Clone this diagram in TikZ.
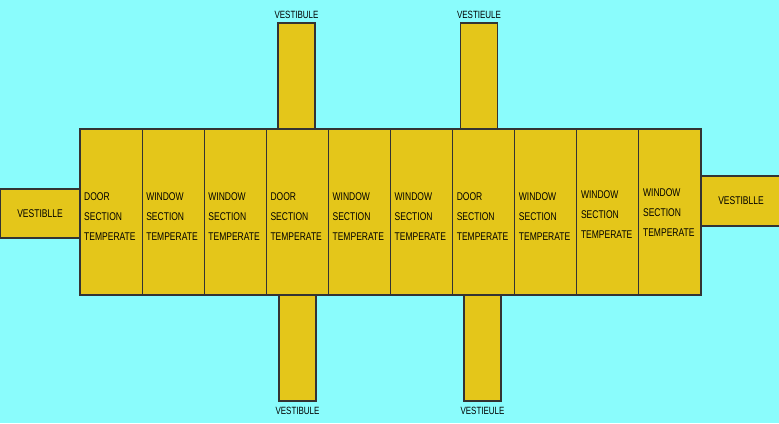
\documentclass[tikz,border=0pt]{standalone}
\usepackage{fontspec}
\newfontfamily\planfont[FakeStretch=0.76]{Liberation Sans}
\usetikzlibrary{positioning}
\definecolor{skycyan}{RGB}{138,252,252}
\definecolor{hallgold}{RGB}{228,198,26}

\begin{document}
\begin{tikzpicture}[x=1pt, y=1pt, font=\planfont\fontsize{11.2}{20}\selectfont,
  node distance=4pt,
  section/.style={draw=black!80, line width=1.1pt, fill=hallgold, minimum width=62.1pt, minimum height=166pt, inner sep=0pt, outer sep=0pt},
  sectext/.style={align=left, inner sep=0pt, anchor=west},
  vest/.style={draw=black!80, line width=1.1pt, fill=hallgold, inner sep=0pt, outer sep=0pt},
  vlabel/.style={font=\planfont\fontsize{10.5}{11}\selectfont, inner sep=0pt}]
\fill[skycyan] (0,0) rectangle (779,423);
\useasboundingbox (0,0) rectangle (779,423);
% side and cross vestibules
\node[vest, minimum width=80pt, minimum height=49pt] (vleft) at (40,209.5) {VESTIBLLE};
\node[vest, minimum width=80pt, minimum height=50pt] (vright) at (741,222) {VESTIBLLE};
\node[vest, minimum width=37pt, minimum height=106pt] (vtopa) at (296.5,347) {};
\node[vest, minimum width=37pt, minimum height=106pt] (vtopb) at (479,347) {};
\node[vest, minimum width=37pt, minimum height=106pt] (vbota) at (297.5,75) {};
\node[vest, minimum width=37pt, minimum height=106pt] (vbotb) at (482.5,75) {};
\node[vlabel, above=of vtopa] {VESTIBULE};
\node[vlabel, above=of vtopb] {VESTIEULE};
\node[vlabel, below=6pt of vbota] {VESTIBULE};
\node[vlabel, below=6pt of vbotb] {VESTIEULE};
% main hall sections
\foreach \i/\kind/\dy in {1/DOOR/-5, 2/WINDOW/-5, 3/WINDOW/-5, 4/DOOR/-5, 5/WINDOW/-5,
    6/WINDOW/-5, 7/DOOR/-5, 8/WINDOW/-5, 9/WINDOW/-3, 10/WINDOW/-1} {
  \node[section] (s\i) at ({80+62.1*(\i-0.5)}, 211) {};
  \node[sectext] at ([xshift=4pt, yshift=\dy pt]s\i.west) {\kind\\SECTION\\TEMPERATE};
}
\end{tikzpicture}
\end{document}
